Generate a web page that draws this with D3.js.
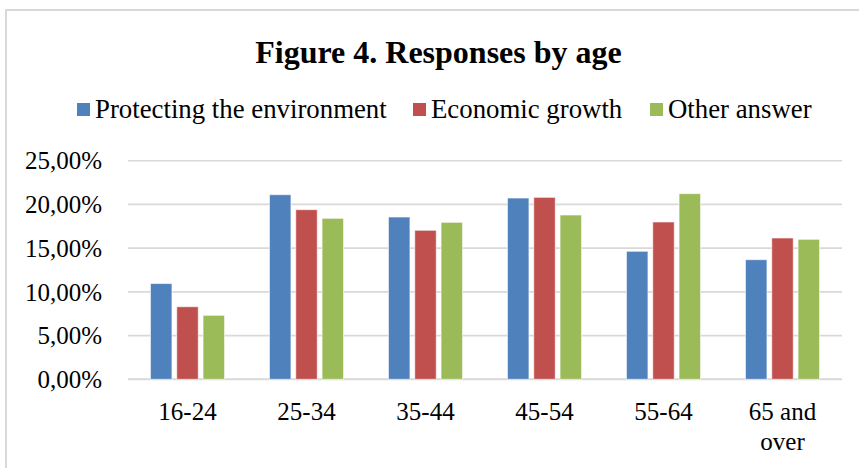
<!DOCTYPE html>
<html>
<head>
<meta charset="utf-8">
<script src="https://cdn.jsdelivr.net/npm/d3@7"></script>
<style>
  html, body { margin: 0; padding: 0; background: #fff; }
  svg { display: block; }
  text { font-family: "Liberation Serif", "Times New Roman", serif; fill: #000; }
</style>
</head>
<body>
<svg id="chart" width="859" height="468"></svg>
<script>
// Share of responses per age group
const categories = ["16-24", "25-34", "35-44", "45-54", "55-64", "65 and over"];
const seriesNames = ["Protecting the environment", "Economic growth", "Other answer"];
const environment = [0.1095, 0.2111, 0.1856, 0.2073, 0.1464, 0.1368];
const economic    = [0.0830, 0.1940, 0.1704, 0.2081, 0.1799, 0.1616];
const other       = [0.0732, 0.1841, 0.1795, 0.1879, 0.2123, 0.1601];
const yTicks = [0, 0.05, 0.10, 0.15, 0.20, 0.25];
const colors = ["#4F81BD", "#C0504D", "#9BBB59"];

const seriesValues = [environment, economic, other];
const rows = categories.map((c, i) => ({
  category: c,
  values: seriesNames.map((s, j) => ({ series: s, value: seriesValues[j][i] }))
}));

const svg = d3.select("#chart");
const W = 859, H = 468;
const plot = { left: 128, right: 842, top: 160.7, bottom: 379.3 };

// Chart area frame (light grey, top and left edges visible)
svg.append("path")
  .attr("d", `M6,${H} V10 H${W}`)
  .attr("fill", "none")
  .attr("stroke", "#D9D9D9")
  .attr("stroke-width", 2);

// Title
svg.append("text")
  .attr("x", 438.5).attr("y", 63)
  .attr("text-anchor", "middle")
  .attr("font-size", 32).attr("font-weight", "bold")
  .text("Figure 4. Responses by age");

// Scales
const x0 = d3.scaleBand().domain(categories).range([plot.left, plot.right]).padding(0);
const x1 = d3.scaleBand().domain(seriesNames).range([0, x0.bandwidth()])
  .paddingInner(0.183).paddingOuter(0.854);
const y = d3.scaleLinear().domain([0, 0.25]).range([plot.bottom, plot.top]);
const color = d3.scaleOrdinal().domain(seriesNames).range(colors);
const pct = d => d3.format(".2f")(d * 100).replace(".", ",") + "%";

// Horizontal gridlines
svg.append("g")
  .selectAll("line")
  .data(yTicks)
  .join("line")
  .attr("x1", plot.left).attr("x2", plot.right)
  .attr("y1", d => y(d)).attr("y2", d => y(d))
  .attr("stroke", "#D9D9D9")
  .attr("stroke-width", d => d === 0 ? 2 : 1.6);

// Y axis labels
const yAxis = d3.axisLeft(y).tickValues(yTicks).tickFormat(pct).tickSize(0).tickPadding(0);
const yg = svg.append("g").attr("transform", `translate(102,0)`).call(yAxis);
yg.select(".domain").remove();
yg.selectAll("text")
  .attr("font-size", 25)
  .attr("font-family", "Liberation Serif, serif")
  .attr("fill", "#000")
  .attr("dy", "0.33em");

// Bars
const groups = svg.append("g")
  .selectAll("g")
  .data(rows)
  .join("g")
  .attr("transform", d => `translate(${x0(d.category)},0)`);

groups.selectAll("rect")
  .data(d => d.values)
  .join("rect")
  .attr("x", d => x1(d.series))
  .attr("width", x1.bandwidth())
  .attr("y", d => y(d.value))
  .attr("height", d => y(0) - y(d.value))
  .attr("fill", d => color(d.series))
  .attr("stroke", "#fff")
  .attr("stroke-opacity", 0.6)
  .attr("stroke-width", 1);

// X axis labels (wrapped onto two lines where needed)
const xAxis = d3.axisBottom(x0).tickSize(0).tickPadding(0);
const xg = svg.append("g").attr("transform", `translate(0,0)`).call(xAxis);
xg.select(".domain").remove();
xg.selectAll(".tick text").each(function(d) {
  const t = d3.select(this);
  t.text(null)
    .attr("font-size", 25)
    .attr("font-family", "Liberation Serif, serif")
    .attr("fill", "#000")
    .attr("y", 420).attr("dy", null);
  const words = d === "65 and over" ? ["65 and", "over"] : [d];
  words.forEach((w, i) => {
    t.append("tspan").attr("x", 0).attr("y", 420 + i * 30).text(w);
  });
});

// Legend
const legendItems = [
  { name: seriesNames[0], x: 77 },
  { name: seriesNames[1], x: 413 },
  { name: seriesNames[2], x: 650 }
];
const lg = svg.append("g")
  .selectAll("g")
  .data(legendItems)
  .join("g")
  .attr("transform", d => `translate(${d.x},0)`);
lg.append("rect")
  .attr("x", 0).attr("y", 103)
  .attr("width", 13).attr("height", 13)
  .attr("fill", d => color(d.name));
lg.append("text")
  .attr("x", 18).attr("y", 118)
  .attr("font-size", 26.8)
  .text(d => d.name);
</script>
</body>
</html>
